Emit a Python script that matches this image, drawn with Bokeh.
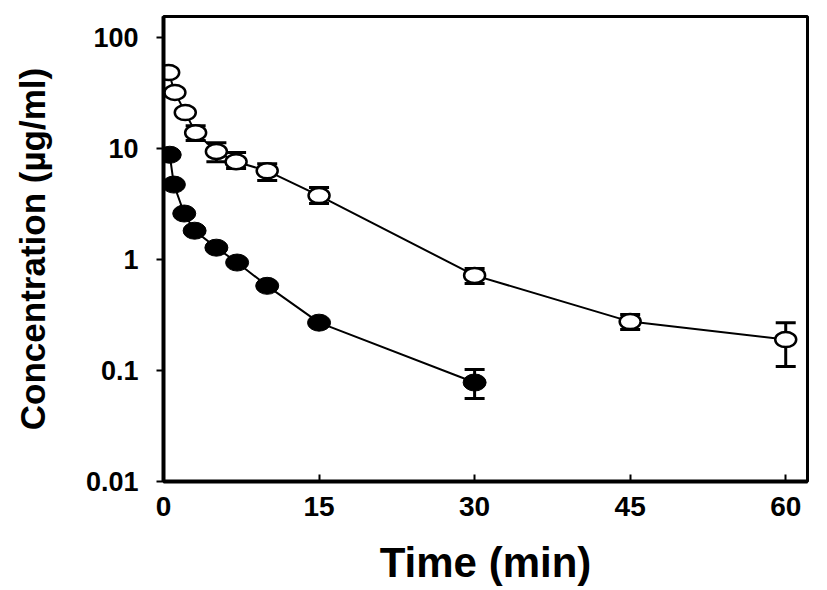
from bokeh.plotting import figure
from bokeh.models import (ColumnDataSource, Range1d, FixedTicker, CustomJSTickFormatter,
                          Whisker, TeeHead)
from bokeh.embed import file_html
from bokeh.resources import INLINE

# ---- data ----
open_t = [0.5, 1.1, 2.1, 3.1, 5.1, 7, 10, 15, 30, 45, 60]
open_c = [48.4, 32, 21.1, 13.9, 9.4, 7.6, 6.3, 3.77, 0.72, 0.276, 0.19]
open_hi = [48.4, 32, 21.1, 16.1, 11.3, 9.2, 7.3, 4.45, 0.83, 0.32, 0.27]
open_lo = [48.4, 32, 21.1, 11.8, 7.6, 6.6, 5.15, 3.2, 0.61, 0.234, 0.109]

filled_t = [0.6, 1, 2, 3, 5.1, 7.1, 10, 15, 30]
filled_c = [8.8, 4.74, 2.6, 1.82, 1.28, 0.94, 0.58, 0.27, 0.078]
filled_hi = [8.8, 4.74, 2.6, 1.82, 1.28, 0.94, 0.58, 0.27, 0.102]
filled_lo = [8.8, 4.74, 2.6, 1.82, 1.28, 0.94, 0.58, 0.27, 0.056]

x_ticks = [0, 15, 30, 45, 60]
y_ticks = [0.01, 0.1, 1, 10, 100]

FONT = "Liberation Sans"

p = figure(frame_width=644, frame_height=465, output_backend="svg", toolbar_location=None,
           y_axis_type="log", x_range=Range1d(0, 62.1), y_range=Range1d(0.01, 155),
           min_border_left=163, min_border_top=16, min_border_right=4, min_border_bottom=10)

p.grid.visible = False
p.outline_line_color = "black"
p.outline_line_width = 3
p.background_fill_color = "white"
p.border_fill_color = "white"

src_o = ColumnDataSource(dict(t=open_t, c=open_c, hi=open_hi, lo=open_lo))
src_f = ColumnDataSource(dict(t=filled_t, c=filled_c, hi=filled_hi, lo=filled_lo))

for src in (src_o, src_f):
    w = Whisker(base="t", upper="hi", lower="lo", source=src, line_color="black", line_width=3,
                upper_head=TeeHead(size=20, line_width=3, line_color="black"),
                lower_head=TeeHead(size=20, line_width=3, line_color="black"))
    p.add_layout(w)

p.line("t", "c", source=src_o, line_color="black", line_width=2)
p.line("t", "c", source=src_f, line_color="black", line_width=2)

p.ellipse("t", "c", width=21, height=15, width_units="screen", height_units="screen",
          source=src_o, fill_color="white", line_color="black", line_width=2.5)
p.ellipse("t", "c", width=23, height=17, width_units="screen", height_units="screen",
          source=src_f, fill_color="black", line_color="black", line_width=1)

# x axis
xa = p.xaxis[0]
xa.ticker = FixedTicker(ticks=x_ticks)
xa.axis_label = "Time (min)"
xa.axis_label_text_font = FONT
xa.axis_label_text_font_style = "bold"
xa.axis_label_text_font_size = "42px"
xa.axis_label_text_color = "black"
xa.axis_label_standoff = 20
xa.major_label_text_font = FONT
xa.major_label_text_font_style = "bold"
xa.major_label_text_font_size = "28px"
xa.major_label_text_color = "black"
xa.major_label_standoff = 15
xa.axis_line_width = 4
xa.axis_line_color = "black"
xa.major_tick_in = 7
xa.major_tick_out = 0
xa.major_tick_line_width = 2
xa.minor_tick_line_color = None

# y axis
ya = p.yaxis[0]
ya.ticker = FixedTicker(ticks=y_ticks)
ya.formatter = CustomJSTickFormatter(code="return String(Number(tick.toPrecision(3)));")
ya.axis_label = "Concentration (\u00b5g/ml)"
ya.axis_label_text_font = FONT
ya.axis_label_text_font_style = "bold"
ya.axis_label_text_font_size = "35px"
ya.axis_label_text_color = "black"
ya.axis_label_standoff = 31
ya.major_label_text_font = FONT
ya.major_label_text_font_style = "bold"
ya.major_label_text_font_size = "27px"
ya.major_label_text_color = "black"
ya.major_label_standoff = 18
ya.axis_line_width = 4
ya.axis_line_color = "black"
ya.major_tick_in = 0
ya.major_tick_out = 7
ya.major_tick_line_width = 2
ya.minor_tick_line_color = None

open("out.html", "w").write(file_html(p, INLINE))
